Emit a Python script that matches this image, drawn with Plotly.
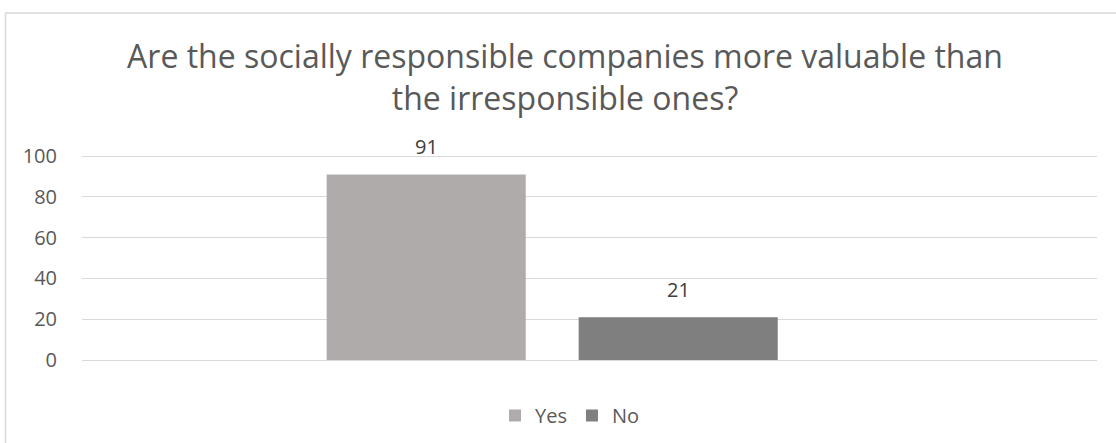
import plotly.graph_objects as go

categories = ["Total"]
series_names = ["Yes", "No"]
yes_values = [91]
no_values = [21]
y_ticks = [0, 20, 40, 60, 80, 100]
title_text = "Are the socially responsible companies more valuable than<br>the irresponsible ones?"

colors = {"Yes": "#AFABAB", "No": "#7F7F7F"}
FONT = "Open Sans, sans-serif"
W, H = 1116, 443
ml, mr, mt, mb = 82, 19, 154, 83
pw = W - ml - mr
ph = H - mt - mb

# bar geometry (grouped bars)
px_per_unit = 1008.0
bargap = 0.5
slot_px = px_per_unit * (1 - bargap) / 2
cat_px = 552.2
r0 = -(cat_px - ml) / px_per_unit
r1 = r0 + pw / px_per_unit

fig = go.Figure()
annotations = []
for i, (name, vals) in enumerate(zip(series_names, [yes_values, no_values])):
    fig.add_trace(go.Bar(
        x=categories, y=vals, name=name,
        marker=dict(color=colors[name], line=dict(width=0)),
    ))
    for c, v in zip(categories, vals):
        annotations.append(dict(
            x=c, y=v, xref="x", yref="y", text=str(v), showarrow=False,
            xshift=(i - 0.5) * slot_px, yshift=12, yanchor="bottom",
            font=dict(family=FONT, size=20, color="#404040"),
        ))

fig.update_layout(
    width=W, height=H,
    margin=dict(l=ml, r=mr, t=mt, b=mb, pad=0),
    paper_bgcolor="white", plot_bgcolor="white",
    barmode="group", bargap=bargap, bargroupgap=0.21,
    title=dict(text=title_text, x=565 / W, xref="container", xanchor="center",
               y=1 - 68 / H, yref="container", yanchor="top",
               font=dict(family=FONT, size=32, color="#595959")),
    font=dict(family=FONT, color="#595959"),
    xaxis=dict(type="category", range=[r0, r1], showticklabels=False, showgrid=False,
               showline=False, zeroline=False, fixedrange=True),
    yaxis=dict(range=[0, 101], tickvals=y_ticks, showgrid=True, gridcolor="#D9D9D9",
               gridwidth=1.3, zeroline=True, zerolinecolor="#D9D9D9", zerolinewidth=1.3,
               showline=False, ticks="", ticklabelstandoff=24,
               tickfont=dict(family=FONT, size=20, color="#595959")),
    legend=dict(orientation="h", x=570 / W, xref="container", xanchor="center",
                y=1 - 396 / H, yref="container", yanchor="top",
                font=dict(family=FONT, size=20, color="#595959"),
                itemwidth=30, tracegroupgap=0),
    showlegend=True,
    annotations=annotations,
    shapes=[dict(type="rect", xref="paper", yref="paper",
                 x0=(5.5 - ml) / pw, x1=(W + 5 - ml) / pw,
                 y0=-(H + 5 - (mt + ph)) / ph, y1=(mt + ph - 13) / ph,
                 line=dict(color="#D9D9D9", width=1.5), fillcolor="rgba(0,0,0,0)",
                 layer="below")],
)

fig.write_html("out.html")
